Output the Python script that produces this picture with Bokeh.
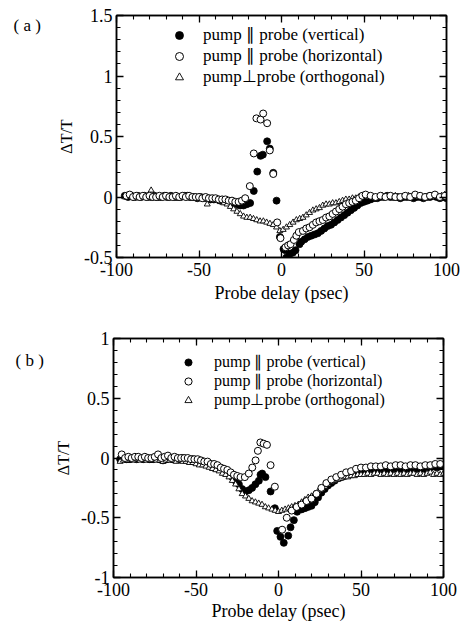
import numpy as np
from bokeh.plotting import figure
from bokeh.layouts import column, row
from bokeh.core.properties import value
from bokeh.models import FixedTicker, LinearAxis, Legend, LegendItem, Range1d
from bokeh.embed import file_html
from bokeh.resources import INLINE

# ---------------- data: panel (a) ----------------
xa_vert = [-95, -93, -91, -89, -87, -85, -83, -81, -79, -77, -75, -73, -71, -69, -67, -65, -63, -61, -59, -57,
           -55, -53, -51, -49, -47, -45, -43, -41, -39, -37, -35, -33, -31, -29, -27, -25, -23, -21, -19,
           -16.8, -14.7, -12.7, -11.3, -8.7, -7.1, -5.0, -3.0, -1.0, 1.2, 2.4, 3.0, 5.0, 6.9, 8.5, 10.9,
           12, 14, 16, 18, 20, 22, 24, 26, 28, 30, 32, 34, 36, 38, 40, 42, 44, 46, 48, 50, 52, 54, 56, 58, 60,
           62, 64, 66, 68, 70, 72, 74, 76, 78, 80, 82, 84, 86, 88, 90, 92, 94, 96, 98, 100]
ya_vert = [0.01, 0.00, 0.01, 0.00, 0.01, 0.00, 0.01, 0.00, 0.00, 0.01, 0.00, 0.00, 0.01, 0.00, 0.01, 0.00, 0.00, 0.00, 0.01, 0.01,
           0.00, 0.00, -0.01, 0.00, -0.01, -0.01, -0.02, -0.02, -0.02, -0.03, -0.03, -0.04, -0.05, -0.05, -0.06, -0.07, -0.07, -0.06, -0.05,
           0.05, 0.21, 0.34, 0.35, 0.46, 0.40, 0.20, -0.03, -0.33, -0.43, -0.44, -0.50, -0.47, -0.46, -0.44, -0.39,
           -0.37, -0.35, -0.33, -0.32, -0.31, -0.30, -0.28, -0.26, -0.24, -0.23, -0.21, -0.19, -0.17, -0.15, -0.13, -0.11, -0.09, -0.07, -0.05, -0.04, -0.03, -0.02, -0.01, -0.01, 0.00,
           0.00, 0.01, 0.00, 0.00, 0.00, -0.01, 0.00, 0.00, 0.00, -0.01, 0.00, 0.00, -0.01, 0.00, 0.00, 0.01, 0.00, -0.01, 0.00, -0.01]

xa_horz = [-94, -92, -90, -88, -86, -84, -82, -80, -78, -76, -74, -72, -70, -68, -66, -64, -62, -60, -58, -56,
           -54, -52, -50, -48, -46, -44, -42, -40, -38, -36, -34, -32, -30, -28, -26, -24, -22,
           -19.2, -16.8, -15.2, -12.7, -11.1, -8.7, -7.1, -5.0, -2.6, -0.6, 2.4, 4.0, 5.5, 7.5, 9.0, 10.5,
           13, 15, 17, 19, 21, 23, 25, 27, 29, 31, 33, 35, 37, 39, 41, 43, 45, 47, 49, 51,
           54, 57, 60, 63, 66, 69, 72, 75, 78, 81, 84, 87, 90, 93, 96, 99]
ya_horz = [0.01, 0.02, 0.00, 0.01, 0.00, 0.01, 0.00, 0.01, 0.00, 0.00, 0.01, 0.00, 0.01, 0.00, 0.00, 0.01, 0.00, 0.01, 0.00, 0.01,
           0.00, 0.00, 0.00, -0.01, 0.00, -0.01, -0.01, -0.01, -0.02, -0.02, -0.02, -0.03, -0.03, -0.04, -0.04, -0.03, -0.01,
           0.09, 0.36, 0.65, 0.64, 0.69, 0.61, 0.385, 0.19, -0.21, -0.34, -0.415, -0.40, -0.39, -0.355, -0.32, -0.29,
           -0.28, -0.26, -0.25, -0.23, -0.21, -0.20, -0.19, -0.17, -0.16, -0.14, -0.12, -0.10, -0.08, -0.06, -0.05, -0.04, -0.03, -0.01, 0.01, 0.02,
           0.01, 0.00, 0.01, 0.00, 0.01, 0.00, 0.00, 0.01, 0.00, 0.02, 0.01, 0.00, 0.01, 0.02, 0.00, 0.01]

xa_orth = [-95, -93, -91, -89, -87, -85, -83, -81, -79, -77, -75, -73, -71, -69, -67, -65, -63, -61, -59, -57,
           -55, -53, -51, -49, -47, -45, -43, -41, -39, -37, -35, -33, -31, -29, -27, -25, -23, -21, -19, -17,
           -15, -13, -11, -9, -7, -5, -3, -1, 1, 3, 5, 7, 9, 11, 13, 15, 17, 19, 21, 23,
           25, 27, 29, 31, 33, 35, 37, 39, 41, 43, 45, 47, 49, 51, 53, 55, 57, 59, 61, 63,
           65, 67, 69, 71, 73, 75, 77, 79, 81, 83, 85, 87, 89, 91, 93, 95, 97, 99]
ya_orth = [0.00, 0.01, 0.00, 0.00, -0.01, 0.00, 0.00, 0.01, 0.055, 0.00, -0.01, 0.00, 0.00, -0.01, 0.00, 0.00, -0.01, 0.00, 0.00, -0.01,
           -0.01, 0.00, -0.01, -0.01, -0.02, -0.06, -0.02, -0.03, -0.03, -0.04, -0.05, -0.06, -0.08, -0.10, -0.12, -0.14, -0.16, -0.17, -0.17, -0.18,
           -0.19, -0.20, -0.20, -0.21, -0.22, -0.23, -0.25, -0.28, -0.27, -0.25, -0.23, -0.21, -0.19, -0.18, -0.17, -0.15, -0.13, -0.11, -0.10, -0.09,
           -0.07, -0.06, -0.06, -0.05, -0.05, -0.04, -0.03, -0.02, -0.02, -0.01, -0.01, 0.00, 0.00, 0.00, 0.01, 0.00, 0.00, 0.00, 0.01, 0.00,
           0.00, 0.00, 0.01, 0.00, 0.00, 0.00, 0.01, 0.00, 0.01, 0.00, 0.00, 0.00, 0.01, 0.00, 0.02, 0.00, 0.01, 0.02]

# ---------------- data: panel (b) ----------------
xb_vert = [-96, -94, -92, -90, -88, -86, -84, -82, -80, -78, -76, -74, -72, -70, -68, -66, -64, -62, -60, -58,
           -56, -54, -52, -50, -48, -46, -44, -42, -40, -38, -36, -34, -32, -30, -28, -26, -24, -22,
           -20, -18, -16, -14,
           -11.9, -10.9, -9.9, -7.9, -4.8, -2.2, -0.8, 1.2, 3.2, 5.9, 7.3, 9.3, 11.3,
           14, 16, 18, 20, 22, 24, 26, 28, 30, 32, 34, 36, 38, 40, 42, 44, 46, 48, 50, 52,
           54, 56, 58, 60, 62, 64, 66, 68, 70, 72, 74, 76, 78, 80, 82, 84, 86, 88, 90, 92, 94, 96, 98, 100]
yb_vert = [-0.01, 0.00, -0.01, -0.01, 0.00, -0.01, 0.00, -0.01, 0.00, -0.01, -0.01, 0.00, -0.01, -0.02, -0.01, 0.00, -0.01, -0.01, -0.01, 0.00,
           -0.01, -0.02, -0.01, -0.02, -0.02, -0.03, -0.04, -0.05, -0.06, -0.07, -0.08, -0.10, -0.11, -0.13, -0.16, -0.19, -0.22, -0.26,
           -0.28, -0.27, -0.25, -0.22,
           -0.19, -0.14, -0.13, -0.16, -0.28, -0.42, -0.61, -0.66, -0.71, -0.65, -0.58, -0.52, -0.45,
           -0.43, -0.42, -0.41, -0.40, -0.37, -0.33, -0.29, -0.26, -0.23, -0.21, -0.19, -0.17, -0.16, -0.15, -0.14, -0.13, -0.12, -0.11, -0.10, -0.10,
           -0.10, -0.10, -0.10, -0.09, -0.10, -0.09, -0.09, -0.10, -0.09, -0.09, -0.09, -0.08, -0.09, -0.09, -0.08, -0.09, -0.08, -0.09, -0.08, -0.08, -0.07, -0.08, -0.07, -0.06]

xb_horz = [-95, -93, -91, -89, -87, -85, -83, -81, -79, -77, -75, -73, -71, -69, -67, -65, -63, -61, -59, -57,
           -55, -53, -51, -49, -47, -45, -43, -41, -39, -37, -35, -33, -31, -29, -27, -25, -23,
           -20.4, -18, -15.9, -13.9, -12.5, -11, -9, -7, -4.8, -2.2, 2.2,
           5, 8, 11, 14, 17, 20, 23, 26, 29, 32, 35, 38, 41, 44, 47, 50, 53, 56, 59, 62,
           65, 68, 71, 74, 77, 80, 83, 86, 89, 92, 95, 98]
yb_horz = [0.03, 0.00, 0.01, 0.00, 0.01, 0.01, 0.00, 0.01, 0.00, 0.00, 0.01, 0.03, 0.00, 0.01, 0.02, 0.00, 0.01, 0.00, 0.00, 0.00,
           0.00, -0.01, -0.01, -0.01, -0.02, -0.03, -0.03, -0.05, -0.05, -0.06, -0.08, -0.09, -0.10, -0.12, -0.14, -0.15, -0.16,
           -0.16, -0.13, -0.08, -0.02, 0.06, 0.13, 0.12, 0.11, -0.06, -0.24, -0.60,
           -0.50, -0.44, -0.41, -0.39, -0.36, -0.34, -0.30, -0.25, -0.21, -0.18, -0.16, -0.14, -0.12, -0.11, -0.09, -0.08, -0.08, -0.07, -0.07, -0.07,
           -0.06, -0.07, -0.06, -0.06, -0.07, -0.06, -0.06, -0.07, -0.06, -0.06, -0.05, -0.05]

xb_orth = [-96, -94, -92, -90, -88, -86, -84, -82, -80, -78, -76, -74, -72, -70, -68, -66, -64, -62, -60, -58,
           -56, -54, -52, -50, -48, -46, -44, -42, -40, -38, -36, -34, -32, -30, -28, -26, -24, -22, -20, -18,
           -16, -14, -12, -10, -8, -6, -4, -2, 0, 2, 4, 6, 8, 10, 12, 14, 16, 18, 20, 22,
           24, 26, 28, 30, 32, 34, 36, 38, 40, 42, 44, 46, 48, 50, 52, 54, 56, 58, 60, 62,
           64, 66, 68, 70, 72, 74, 76, 78, 80, 82, 84, 86, 88, 90, 92, 94, 96, 98, 100]
yb_orth = [-0.03, -0.02, -0.02, -0.01, -0.02, -0.01, -0.02, -0.01, -0.02, -0.02, -0.01, -0.02, -0.02, -0.03, -0.02, -0.02, -0.02, -0.03, -0.02, -0.03,
           -0.03, -0.04, -0.04, -0.05, -0.06, -0.06, -0.07, -0.08, -0.09, -0.10, -0.11, -0.13, -0.14, -0.16, -0.19, -0.22, -0.26, -0.30, -0.32, -0.34,
           -0.36, -0.37, -0.38, -0.39, -0.41, -0.42, -0.43, -0.44, -0.45, -0.44, -0.43, -0.42, -0.41, -0.40, -0.39, -0.37, -0.35, -0.33, -0.32, -0.30,
           -0.28, -0.26, -0.24, -0.22, -0.20, -0.19, -0.18, -0.17, -0.16, -0.16, -0.15, -0.15, -0.14, -0.14, -0.14, -0.13, -0.14, -0.13, -0.13, -0.14,
           -0.13, -0.14, -0.13, -0.14, -0.13, -0.14, -0.13, -0.14, -0.13, -0.13, -0.14, -0.13, -0.14, -0.13, -0.12, -0.14, -0.13, -0.14, -0.13]

# ---------------- ticks / labels ----------------
x_ticks = [-100, -50, 0, 50, 100]
x_tick_labels = ["-100", "-50", "0", "50", "100"]
ya_ticks = [-0.5, 0, 0.5, 1, 1.5]
ya_tick_labels = ["-0.5", "0", "0.5", "1", "1.5"]
yb_ticks = [-1, -0.5, 0, 0.5, 1]
yb_tick_labels = ["-1", "-0.5", "0", "0.5", "1"]
series_labels = ["pump \u2225 probe (vertical)", "pump \u2225 probe (horizontal)", "pump\u22a5probe (orthogonal)"]
panel_labels = ["( a )", "( b )"]
x_title = "Probe delay (psec)"
y_title = "\u0394T/T"

FONT = "Liberation Serif"
TAG_W = 46


def make_tag(text, height, sx, s_from_top):
    """Narrow strip left of a panel carrying its '( a )' / '( b )' tag (pixel ranges)."""
    t = figure(width=TAG_W, height=height, output_backend="svg", toolbar_location=None,
               x_range=Range1d(0, TAG_W), y_range=Range1d(height, 0), x_axis_type=None, y_axis_type=None,
               min_border_left=0, min_border_right=0, min_border_top=0, min_border_bottom=0,
               outline_line_color=None, background_fill_color="white", border_fill_color="white")
    t.grid.visible = False
    t.text(x=[sx], y=[s_from_top], text=[text], text_baseline="middle", text_align="left",
           text_font=value(FONT), text_font_size=value("17px"), text_color="black")
    return t


def make_panel(xr, yr, yt, ytl, data, width, height, borders,
               legend_loc, legend_rowh, legend_font, legend_standoff, xlab_standoffs):
    left, right, top, bottom = borders
    p = figure(width=width, height=height, output_backend="svg", toolbar_location=None,
               x_range=Range1d(*xr), y_range=Range1d(*yr),
               min_border_left=left, min_border_right=right, min_border_top=top, min_border_bottom=bottom,
               background_fill_color="white", border_fill_color="white")
    p.grid.visible = False
    p.outline_line_color = "black"
    p.outline_line_width = 1.5

    x_minor = [v for v in range(-100, 101, 10)]
    y_minor = [round(v, 2) for v in np.arange(yr[0], yr[1] + 0.001, 0.1)]

    def style_axis(ax):
        ax.axis_line_color = "black"
        ax.axis_line_width = 1.5
        ax.major_tick_in = 7
        ax.major_tick_out = 0
        ax.minor_tick_in = 4
        ax.minor_tick_out = 0
        ax.major_tick_line_color = "black"
        ax.minor_tick_line_color = "black"
        ax.major_tick_line_width = 1.3
        ax.minor_tick_line_width = 1.1
        ax.major_label_text_font = FONT
        ax.major_label_text_font_size = "18px"
        ax.major_label_text_color = "black"
        ax.axis_label_text_font = FONT
        ax.axis_label_text_font_style = "normal"
        ax.axis_label_text_color = "black"

    xa = p.xaxis[0]
    xa.ticker = FixedTicker(ticks=x_ticks, minor_ticks=x_minor)
    xa.major_label_overrides = {t: l for t, l in zip(x_ticks, x_tick_labels)}
    xa.axis_label = x_title
    style_axis(xa)
    xa.axis_label_text_font_size = "18px"
    xa.major_label_standoff = xlab_standoffs[0]
    xa.axis_label_standoff = xlab_standoffs[1]

    ya = p.yaxis[0]
    ya.ticker = FixedTicker(ticks=yt, minor_ticks=y_minor)
    ya.major_label_overrides = {t: l for t, l in zip(yt, ytl)}
    ya.axis_label = y_title
    style_axis(ya)
    ya.axis_label_text_font_size = "16px"
    ya.major_label_standoff = 4
    ya.major_label_orientation = "horizontal"
    ya.axis_label_standoff = 6

    top_ax = LinearAxis(ticker=FixedTicker(ticks=x_ticks, minor_ticks=x_minor),
                        major_label_overrides={t: "" for t in x_ticks})
    style_axis(top_ax)
    top_ax.major_label_standoff = 0
    p.add_layout(top_ax, "above")
    right_ax = LinearAxis(ticker=FixedTicker(ticks=yt, minor_ticks=y_minor),
                          major_label_overrides={t: "" for t in yt})
    style_axis(right_ax)
    right_ax.major_label_standoff = 0
    p.add_layout(right_ax, "right")

    (xv, yv), (xh, yh), (xo, yo) = data
    r_v = p.scatter(xv, yv, marker="circle", size=7, fill_color="black", line_color="black", line_width=0.8)
    r_o = p.scatter(xo, yo, marker="triangle", size=6, fill_color="white", line_color="black", line_width=0.9)
    r_h = p.scatter(xh, yh, marker="circle", size=7, fill_color="white", line_color="black", line_width=1.0)

    legend = Legend(items=[LegendItem(label=series_labels[0], renderers=[r_v]),
                           LegendItem(label=series_labels[1], renderers=[r_h]),
                           LegendItem(label=series_labels[2], renderers=[r_o])],
                    location=legend_loc, border_line_color=None, background_fill_alpha=0,
                    padding=0, margin=0, spacing=0, glyph_width=20, glyph_height=legend_rowh,
                    label_height=legend_rowh, label_standoff=legend_standoff,
                    label_text_font=FONT, label_text_font_size=legend_font, label_text_color="black")
    p.add_layout(legend)
    return p


HA, HB = 310, 313
tag_a = make_tag(panel_labels[0], HA, 13, 13)
tag_b = make_tag(panel_labels[1], HB, 15, 29)

pa = make_panel((-100, 100), (-0.5, 1.5), ya_ticks, ya_tick_labels,
                [(xa_vert, ya_vert), (xa_horz, ya_horz), (xa_orth, ya_orth)],
                466 - TAG_W, HA, (116 - TAG_W, 20, 15, 53),
                (53, 170), 20, "17px", 14, (5, 4))
pb = make_panel((-100, 100), (-1, 1), yb_ticks, yb_tick_labels,
                [(xb_vert, yb_vert), (xb_horz, yb_horz), (xb_orth, yb_orth)],
                466 - TAG_W, HB, (113 - TAG_W, 23, 28, 42),
                (65, 168), 18, "16px", 16, (5, 2))

layout = column(row(tag_a, pa, spacing=0), row(tag_b, pb, spacing=0), spacing=0)
open("out.html", "w").write(file_html(layout, INLINE))
